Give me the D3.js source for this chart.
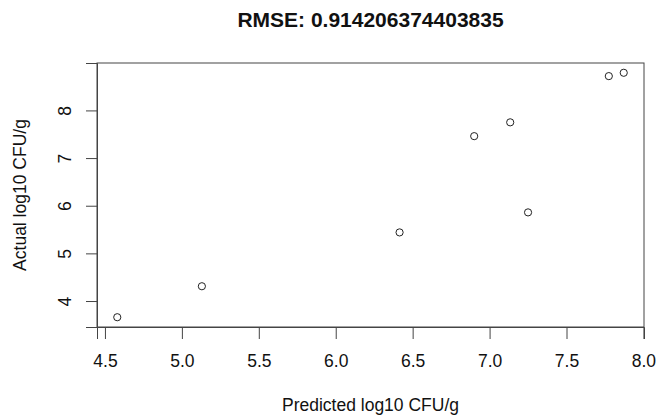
<!DOCTYPE html>
<html>
<head>
<meta charset="utf-8">
<script src="https://cdn.jsdelivr.net/npm/d3@7"></script>
<style>
  body { margin: 0; background: #fff; }
  text { font-family: "Liberation Sans", Arial, sans-serif; fill: #111; }
</style>
</head>
<body>
<svg width="657" height="416"></svg>
<script>
  // predicted vs actual (log10 CFU/g)
  var predicted = [4.58, 5.13, 6.415, 6.90, 7.134, 7.25, 7.775, 7.872];
  var actual    = [3.66, 4.31, 5.44, 7.46, 7.75, 5.86, 8.72, 8.79];
  var xTicks = [4.5, 5.0, 5.5, 6.0, 6.5, 7.0, 7.5, 8.0];
  var yTicks = [4, 5, 6, 7, 8];
  var title = "RMSE: 0.914206374403835";
  var xLabel = "Predicted log10 CFU/g";
  var yLabel = "Actual log10 CFU/g";

  var svg = d3.select("svg"),
      margin = {top: 63, right: 13, bottom: 89, left: 97},
      width = +svg.attr("width") - margin.left - margin.right,
      height = +svg.attr("height") - margin.top - margin.bottom,
      g = svg.append("g").attr("transform", "translate(" + margin.left + "," + margin.top + ")");

  // R style axis range: data extent padded by 4%
  function pad(ext) {
    var d = (ext[1] - ext[0]) * 0.04;
    return [ext[0] - d, ext[1] + d];
  }

  var x = d3.scaleLinear()
      .domain(pad(d3.extent(predicted)))
      .range([0, width]);

  var y = d3.scaleLinear()
      .domain(pad(d3.extent(actual)))
      .range([height, 0]);

  var xAxis = g.append("g")
      .attr("transform", "translate(0," + height + ")")
      .call(d3.axisBottom(x)
          .tickValues(xTicks)
          .tickFormat(d3.format(".1f"))
          .tickSizeOuter(0)
          .tickSize(12)
          .tickPadding(16));

  var yAxis = g.append("g")
      .call(d3.axisLeft(y)
          .tickValues(yTicks)
          .tickFormat(d3.format("d"))
          .tickSizeOuter(0)
          .tickSize(11));

  g.selectAll(".domain").attr("stroke", "#444");
  g.selectAll(".tick line").attr("stroke", "#444");

  xAxis.selectAll("text")
      .attr("font-size", "17.5px")
      .attr("font-family", "Liberation Sans, Arial, sans-serif")
      .attr("fill", "#111")
      .attr("dy", null)
      .attr("y", 40);

  yAxis.selectAll("text")
      .attr("font-size", "17.5px")
      .attr("font-family", "Liberation Sans, Arial, sans-serif")
      .attr("fill", "#111")
      .attr("text-anchor", "middle")
      .attr("transform", "rotate(-90)")
      .attr("x", 0)
      .attr("dy", null)
      .attr("y", -26.5);

  // plot box
  g.append("rect")
      .attr("width", width)
      .attr("height", height)
      .attr("fill", "none")
      .attr("stroke", "#444")
      .attr("stroke-width", 1);

  g.selectAll("circle")
    .data(predicted)
    .enter().append("circle")
      .attr("cx", function(d) { return x(d); })
      .attr("cy", function(d, i) { return y(actual[i]); })
      .attr("r", 3.6)
      .attr("fill", "none")
      .attr("stroke", "#222")
      .attr("stroke-width", 1);

  svg.append("text")
      .attr("x", margin.left + width / 2)
      .attr("y", 27)
      .attr("text-anchor", "middle")
      .attr("font-size", "21px")
      .attr("font-weight", "bold")
      .text(title);

  svg.append("text")
      .attr("x", margin.left + width / 2)
      .attr("y", 411)
      .attr("text-anchor", "middle")
      .attr("font-size", "17.5px")
      .text(xLabel);

  svg.append("text")
      .attr("transform", "translate(26," + (margin.top + height / 2) + ") rotate(-90)")
      .attr("text-anchor", "middle")
      .attr("font-size", "17.5px")
      .text(yLabel);
</script>
</body>
</html>
